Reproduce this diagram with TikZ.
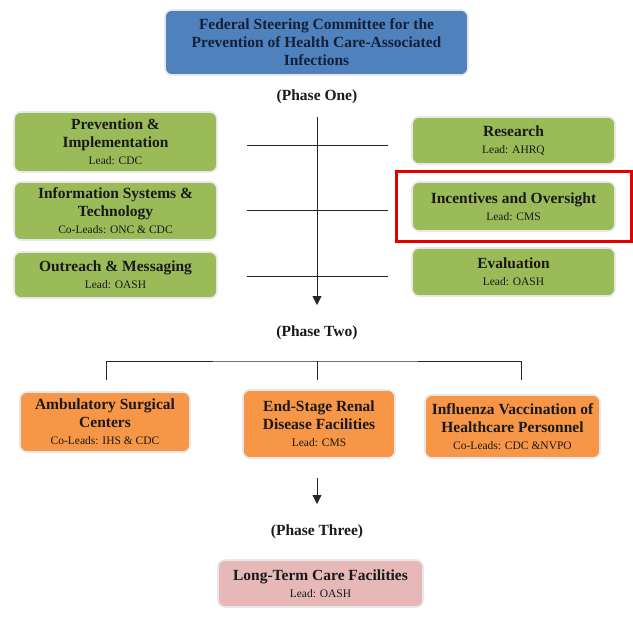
\documentclass[tikz,border=0pt]{standalone}
\usepackage{fontspec}
\setmainfont{Liberation Serif}
\usetikzlibrary{arrows.meta}
\definecolor{blu}{HTML}{4F81BD}
\definecolor{grn}{HTML}{9BBB59}
\definecolor{org}{HTML}{F79646}
\definecolor{pnk}{HTML}{E6B9B8}
\definecolor{navy}{HTML}{14203A}
\newcommand{\leadline}[1]{\\[-1pt]{\fontsize{11.5}{12}\selectfont\mdseries #1}}
\tikzset{
  box/.style={rectangle, rounded corners=7pt, draw=black!9, line width=1.6pt,
    align=center, inner sep=2pt, text=black!90,
    font=\fontsize{15.5}{18}\selectfont\bfseries},
  gbox/.style={box, fill=grn, minimum width=203pt},
  obox/.style={box, fill=org},
  phase/.style={font=\fontsize{15.5}{17}\selectfont\bfseries, text=black!90},
  conn/.style={draw=black!85, line width=0.8pt},
  arr/.style={conn, -{Triangle[length=9pt,width=9pt]}},
  hilite/.style={draw=red!90!black, line width=3pt, minimum width=235pt, minimum height=70pt, inner sep=0pt}
}
\begin{document}
\begin{tikzpicture}[x=1pt,y=-1pt]
\useasboundingbox (0,0) rectangle (633,619);
% top
\node[box, fill=blu, text=navy, minimum width=303pt, minimum height=65pt] (top) at (316.5,42.5)
  {Federal Steering Committee for the\\Prevention of Health Care-Associated\\Infections};
\node[phase] (p1) at (317,97) {(Phase One)};
% left column
\node[gbox, minimum height=60pt] (l1) at (115.5,142) {Prevention \&\\Implementation\leadline{Lead: CDC}};
\node[gbox, minimum height=58pt] (l2) at (115.5,211) {Information Systems \&\\Technology\leadline{Co-Leads: ONC \& CDC}};
\node[gbox, minimum height=46pt] (l3) at (115.5,275) {Outreach \& Messaging\leadline{Lead: OASH}};
% right column
\node[gbox, minimum height=47pt] (r1) at (513.5,140.5) {Research\leadline{Lead: AHRQ}};
\node[gbox, minimum height=49pt] (r2) at (513.5,206.5) {Incentives and Oversight\leadline{Lead: CMS}};
\node[gbox, minimum height=48pt] (r3) at (513.5,272) {Evaluation\leadline{Lead: OASH}};
\node[hilite] (hl) at (513.5,206) {};
% spine
\coordinate (s0) at (317,117);
\coordinate (s1) at (317,305);
\draw[arr] (s0) -- (s1);
\coordinate (h1a) at (247,145); \coordinate (h1b) at (388,145);
\coordinate (h2a) at (247,210); \coordinate (h2b) at (388,210);
\coordinate (h3a) at (247,276); \coordinate (h3b) at (388,276);
\draw[conn] (h1a) -- (h1b);
\draw[conn] (h2a) -- (h2b);
\draw[conn] (h3a) -- (h3b);
% phase two
\node[phase] (p2) at (317,333) {(Phase Two)};
\coordinate (b0) at (317,361);
\coordinate (bl) at (106,380);
\coordinate (bm) at (317,380);
\coordinate (br) at (521,380);
\draw[conn] (bl) |- (b0) -| (br);
\draw[conn] (b0) -- (bm);
\node[obox, minimum width=170pt, minimum height=60pt] (o1) at (105,422) {Ambulatory Surgical\\Centers\leadline{Co-Leads: IHS \& CDC}};
\node[obox, minimum width=152pt, minimum height=68pt] (o2) at (319,424) {End-Stage Renal\\Disease Facilities\leadline{Lead: CMS}};
\node[obox, minimum width=175pt, minimum height=63pt] (o3) at (512.5,426.5) {Influenza Vaccination of\\Healthcare Personnel\leadline{Co-Leads: CDC \&NVPO}};
% phase three
\coordinate (a0) at (317,478);
\coordinate (a1) at (317,504);
\draw[arr] (a0) -- (a1);
\node[phase] (p3) at (317,532) {(Phase Three)};
\node[box, fill=pnk, minimum width=205pt, minimum height=47pt] (ltc) at (320.5,583.5) {Long-Term Care Facilities\leadline{Lead: OASH}};
\end{tikzpicture}
\end{document}
